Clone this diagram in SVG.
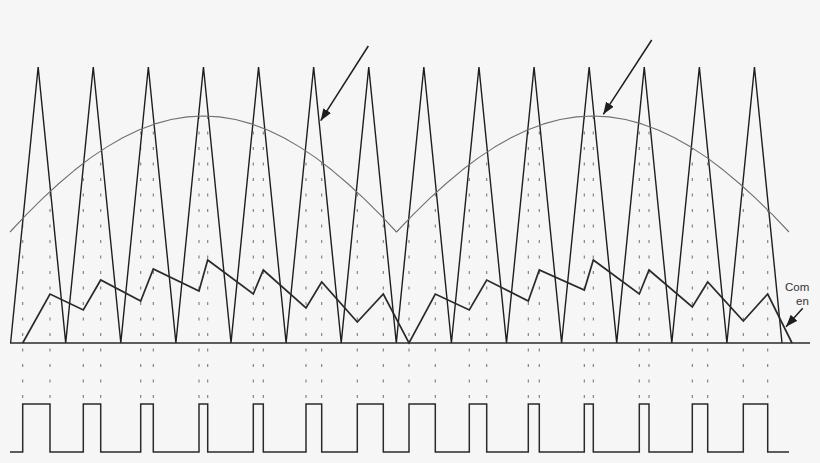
<svg xmlns="http://www.w3.org/2000/svg" width="820" height="463" viewBox="0 0 820 463">
<defs>
<style>
.tri{fill:none;stroke:#1e1e1e;stroke-width:1.4;stroke-linejoin:miter}
.sine{fill:none;stroke:#707070;stroke-width:1.1;stroke-linejoin:round}
.zig{fill:none;stroke:#2a2a2a;stroke-width:1.7;stroke-linejoin:miter}
.base{fill:none;stroke:#2a2a2a;stroke-width:1.6}
.pulse{fill:none;stroke:#2a2a2a;stroke-width:1.5}
.dot{fill:none;stroke:#7a7a7a;stroke-width:1.1;stroke-dasharray:3 12.5;stroke-dashoffset:9.5}
.arr{fill:none;stroke:#1e1e1e;stroke-width:1.5;marker-end:url(#ah)}
.lbl{font-family:"Liberation Sans",Arial,sans-serif;font-size:11.5px;fill:#333}
</style>
<marker id="ah" markerUnits="userSpaceOnUse" markerWidth="13" markerHeight="10" refX="12" refY="4.5" orient="auto">
<path d="M0,0 L12,4.5 L0,9 Z" fill="#1e1e1e"/>
</marker>
</defs>
<rect width="820" height="463" fill="#f6f6f6"/>

<g id="dotted-lines">
<path class="dot" d="M22.7 404V218.5M50 404V191.5M83.3 404V163.4M100.7 404V150.9M140.7 404V129.2M153.3 404V124.4M199 404V116.1M207.7 404V116.1M253.3 404V124.5M263.3 404V128.2M306 404V151M321.7 404V162.2M357.3 404V192.3M383.3 404V217.8M409 404V218.9M435.3 404V193.2M469.3 404V164.5M486.7 404V152.1M528.3 404V129.6M539.3 404V125.4M584.3 404V116.2M593.3 404V116M639.3 404V123.1M649 404V126.4M692.3 404V148M707.7 404V158.3M743.3 404V187M767.7 404V210"/>
</g>

<g id="carrier">
<polyline class="tri" points="10.6,343 38.15,67 65.7,343 93.25,67 120.8,343 148.35,67 175.9,343 203.45,67 231,343 258.55,67 286.1,343 313.65,67 341.2,343 368.75,67 396.3,343 423.85,67 451.4,343 478.95,67 506.5,343 534.05,67 561.6,343 589.15,67 616.7,343 644.25,67 671.8,343 699.35,67 726.9,343 754.45,67 782,343"/>
</g>

<g id="reference">
<polyline class="sine" points="10,232 26.1,214.9 42.2,198.9 58.3,184 74.4,170.3 90.5,157.9 106.6,147.1 122.7,137.7 138.8,130 154.9,123.9 171.1,119.5 187.1,116.9 203.25,116 219.4,116.9 235.5,119.5 251.6,123.9 267.7,130 283.8,137.7 299.9,147.1 316,157.9 332.1,170.3 348.2,184 364.3,198.9 380.4,214.9 396.5,232 412.85,214.9 429.2,198.9 445.6,184 461.9,170.3 478.3,157.9 494.6,147.1 511,137.7 527.4,130 543.7,123.9 560.1,119.5 576.4,116.9 592.75,116 609.1,116.9 625.5,119.5 641.8,123.9 658.2,130 674.5,137.7 690.9,147.1 707.3,157.9 723.6,170.3 740,184 756.3,198.9 772.7,214.9 789,232"/>
</g>

<g id="current">
<polyline class="zig" points="22.7,343 50,294 83.3,310 100.7,280 140.7,301 153.3,269 199,291 207.7,260 253.3,294 263.3,270 306,308 321.7,282 357.3,322 383.3,294 409,343 435.3,294 469.3,310 486.7,280 528.3,301 539.3,270 584.3,290 593.3,260 639.3,294 649,270 692.3,307 707.7,282 743.3,321 767.7,294 792,343"/>
</g>

<g id="baseline">
<line class="base" x1="10" y1="343" x2="810" y2="343"/>
</g>

<g id="gate-pulses">
<path class="pulse" d="M10 452H22.7V404H50V452H83.3V404H100.7V452H140.7V404H153.3V452H199V404H207.7V452H253.3V404H263.3V452H306V404H321.7V452H357.3V404H383.3V452H409V404H435.3V452H469.3V404H486.7V452H528.3V404H539.3V452H584.3V404H593.3V452H639.3V404H649V452H692.3V404H707.7V452H743.3V404H767.7V452H789"/>
</g>

<g id="label-current">
<text class="lbl" x="785" y="290.5">Com</text>
<text class="lbl" x="796" y="304.5">en</text>
</g>

<g id="connectors">
<line class="arr" x1="368.3" y1="46" x2="320.7" y2="120.7"/>
<line class="arr" x1="651.7" y1="40" x2="603.3" y2="114.3"/>
<line class="arr" x1="802.7" y1="308.3" x2="786" y2="326.7"/>
</g>
</svg>
